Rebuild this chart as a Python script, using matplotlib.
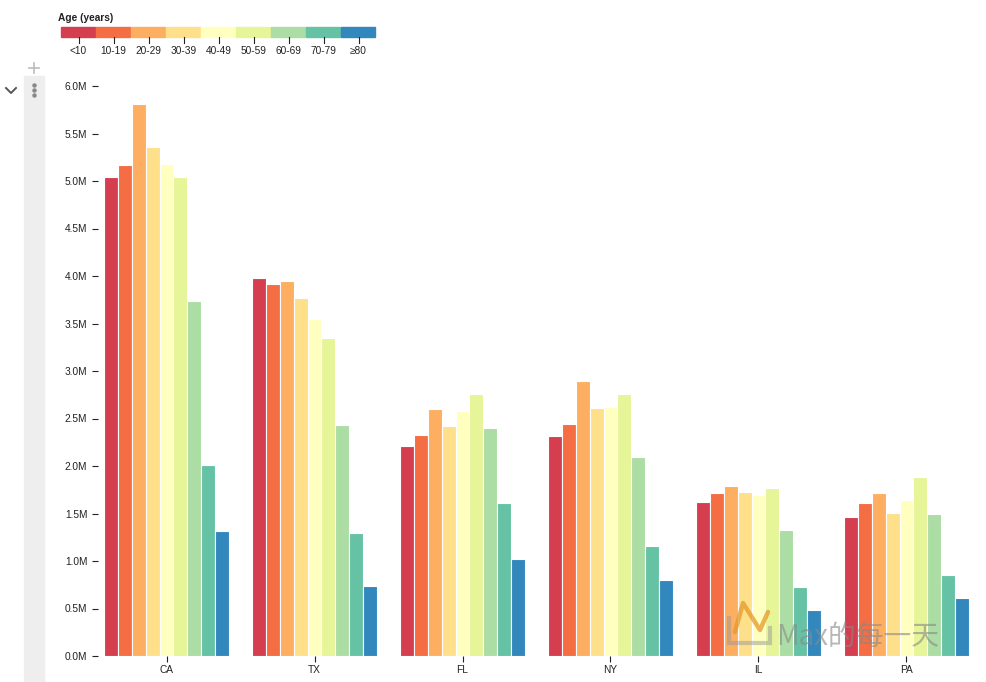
import matplotlib
matplotlib.use("Agg")
import matplotlib.pyplot as plt
from matplotlib.patches import Rectangle
from matplotlib.lines import Line2D
from matplotlib.ticker import FuncFormatter, MultipleLocator

states = ["CA", "TX", "FL", "NY", "IL", "PA"]
ages = ["<10", "10-19", "20-29", "30-39", "40-49", "50-59", "60-69", "70-79", "≥80"]
pop = {
    "CA": [5038433, 5170341, 5809455, 5354112, 5179258, 5042094, 3737461, 2011678, 1311374],
    "TX": [3983091, 3910528, 3946447, 3770534, 3545746, 3344930, 2431494, 1291486, 732179],
    "FL": [2211012, 2331102, 2597830, 2416176, 2575576, 2762983, 2404659, 1615547, 1019566],
    "NY": [2319945, 2445591, 2894266, 2605355, 2617327, 2755620, 2095207, 1160055, 804091],
    "IL": [1619682, 1715984, 1789739, 1721954, 1697069, 1773366, 1326121, 728821, 478948],
    "PA": [1458931, 1608018, 1718211, 1504666, 1645669, 1881378, 1491536, 850486, 615283],
}
colors = ["#d53e4f", "#f46d43", "#fdae61", "#fee08b", "#ffffbf",
          "#e6f598", "#abdda4", "#66c2a5", "#3288bd"]

W, H = 986, 682
plt.rcParams['font.family'] = ['Liberation Sans', 'Noto Sans CJK SC', 'DejaVu Sans']
fig = plt.figure(figsize=(W / 100, H / 100), dpi=100)

def fx(px):
    return px / W

def fy(py):
    return 1 - py / H

# Observable-like side UI
fig.patches.append(Rectangle((fx(24), fy(682)), fx(20), (682 - 76) / H,
                             transform=fig.transFigure, color="#eeeeee", zorder=0))
fig.add_artist(Line2D([fx(6), fx(11), fx(16)], [fy(88), fy(93), fy(88)],
                      transform=fig.transFigure, color="#555555", lw=1.4))
fig.add_artist(Line2D([fx(29), fx(39)], [fy(68), fy(68)], transform=fig.transFigure,
                      color="#bbbbbb", lw=1.2))
fig.add_artist(Line2D([fx(34), fx(34)], [fy(63), fy(73)], transform=fig.transFigure,
                      color="#bbbbbb", lw=1.2))
for yy in (85, 90, 95):
    fig.add_artist(Line2D([fx(34)], [fy(yy)], transform=fig.transFigure, marker='o',
                          ms=2.2, color="#888888", lw=0))

# Main axes
x0, x1 = 104, 969
ytop, ybot = 86, 656
ax = fig.add_axes([fx(x0), fy(ybot), fx(x1 - x0), (ybot - ytop) / H])
step = (x1 - x0) / (len(states) - 0.155)
gw = step * 0.845
bw = gw / len(ages)
for i, s in enumerate(states):
    for j, v in enumerate(pop[s]):
        ax.bar(i * step + j * bw, v, width=bw, align='edge', color=colors[j],
               edgecolor="white", linewidth=0.8)
ax.set_xlim(0, x1 - x0)
ax.set_ylim(0, 6e6)
ax.set_xticks([i * step + gw / 2 for i in range(len(states))])
ax.set_xticklabels(states)
ax.yaxis.set_major_locator(MultipleLocator(5e5))
ax.yaxis.set_major_formatter(FuncFormatter(lambda v, p: f"{v / 1e6:.1f}M"))
for sp in ax.spines.values():
    sp.set_visible(False)
ax.spines['left'].set_position(('outward', 4.5))
ax.tick_params(axis='both', labelsize=7.3, colors="#222222", length=4.5, width=0.8)
ax.tick_params(axis='y', pad=3)
ax.tick_params(axis='x', pad=2)
ax.set_facecolor("none")

# Legend
fig.text(fx(58), fy(21), "Age (years)", fontsize=7.3, fontweight='bold', color="#222222")
sw = 35
for j, a in enumerate(ages):
    lx = 61 + j * sw
    fig.patches.append(Rectangle((fx(lx), fy(37)), fx(sw - 1), 10 / H,
                                 transform=fig.transFigure, color=colors[j]))
    cx = lx + sw / 2
    fig.add_artist(Line2D([fx(cx), fx(cx)], [fy(37), fy(43)], transform=fig.transFigure,
                          color="#222222", lw=0.8))
    fig.text(fx(cx), fy(54), a, fontsize=7.3, ha='center', color="#222222")

# Watermark
fig.add_artist(Line2D([fx(729), fx(729), fx(770), fx(770)],
                      [fy(618), fy(643), fy(643), fy(628)], transform=fig.transFigure,
                      color="#999999", alpha=0.5, lw=3, solid_joinstyle='miter'))
fig.add_artist(Line2D([fx(735), fx(743), fx(760), fx(768)],
                      [fy(632), fy(603), fy(630), fy(612)], transform=fig.transFigure,
                      color="#e39a2a", alpha=0.75, lw=3.2, solid_capstyle='round'))
fig.text(fx(776), fy(645), "Max的每一天", fontsize=20, color="#888888", alpha=0.6,
         family=['Noto Sans CJK SC', 'DejaVu Sans'])

fig.savefig("out.png", dpi=100)
